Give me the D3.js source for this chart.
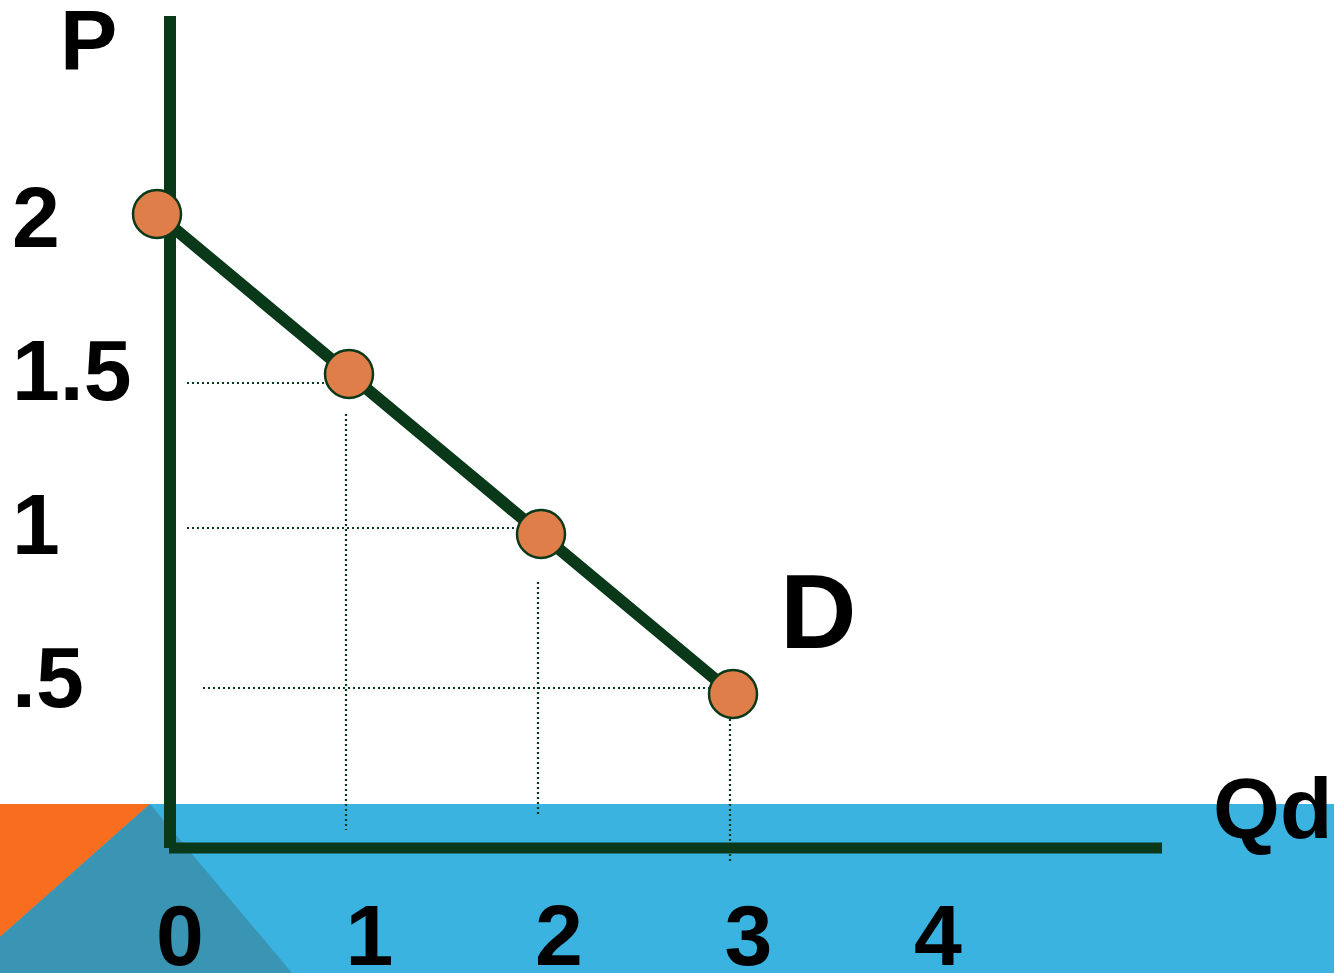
<!DOCTYPE html>
<html>
<head>
<meta charset="utf-8">
<script src="https://cdn.jsdelivr.net/npm/d3@7"></script>
<style>
  html, body { margin: 0; padding: 0; background: #fff; }
  text { font-family: "Liberation Sans", Arial, sans-serif; font-weight: bold; fill: #000; }
</style>
</head>
<body>
<div id="chart"></div>
<script>
/* Demand curve slide: P vs Qd */

const quantities = [0, 1, 2, 3];
const prices = [2, 1.5, 1, 0.5];
const xTickLabels = ["0", "1", "2", "3", "4"];
const yTickValues = [2, 1.5, 1, 0.5];
const yTickLabels = ["2", "1.5", "1", ".5"];

const width = 1334,
    height = 973;

const green = "#0a3919";

let svg = d3.select("#chart")
    .append("svg")
    .attr("width", width)
    .attr("height", height)
    .attr("viewBox", [0, 0, width, height]);

// slide background band at the bottom
const bandTop = 804;
svg.append("rect")
    .attr("x", 0).attr("y", bandTop)
    .attr("width", width).attr("height", height - bandTop)
    .attr("fill", "#3ab3e0");
svg.append("polygon")
    .attr("points", [[0, bandTop], [150, bandTop], [0, 937]].join(" "))
    .attr("fill", "#f86d1e");
svg.append("polygon")
    .attr("points", [[150, bandTop], [292, height], [0, height], [0, 937]].join(" "))
    .attr("fill", "#3a95b4");

// scales for the points
let x = d3.scaleLinear()
    .domain([0, 3])
    .range([157, 733]);

let y = d3.scaleLinear()
    .domain([0.5, 2])
    .range([694, 214]);

// scales for the tick labels
let xTick = d3.scaleLinear()
    .domain([0, 4])
    .range([180, 938]);

let yTick = d3.scaleLinear()
    .domain([0.5, 2])
    .range([707, 247]);

const originX = 170,
    originY = 848;

const data = quantities.map((q, i) => ({q: q, p: prices[i]}));

// dotted guide lines
const guides = data.filter(d => d.q > 0);
const hOffset = {1.5: 9, 1: -6, 0.5: -6};

svg.selectAll(".hguide")
    .data(guides)
    .join("line")
    .attr("class", "hguide")
    .attr("x1", d => d.p === 0.5 ? originX + 33 : originX + 17)
    .attr("x2", d => x(d.q) - 4)
    .attr("y1", d => y(d.p) + hOffset[d.p])
    .attr("y2", d => y(d.p) + hOffset[d.p])
    .attr("stroke", green)
    .attr("stroke-width", 2.2)
    .attr("stroke-dasharray", "2,3");

svg.selectAll(".vguide")
    .data(guides)
    .join("line")
    .attr("class", "vguide")
    .attr("x1", d => x(d.q) - 3)
    .attr("x2", d => x(d.q) - 3)
    .attr("y1", d => d.q === 3 ? y(d.p) + 10 : y(d.p) + (d.q === 1 ? 40 : 48))
    .attr("y2", d => d.q === 3 ? originY + 14 : (d.q === 1 ? originY - 18 : originY - 33))
    .attr("stroke", green)
    .attr("stroke-width", 2.2)
    .attr("stroke-dasharray", "2,3");

// axes
svg.append("line")
    .attr("x1", originX).attr("x2", originX)
    .attr("y1", 16).attr("y2", originY)
    .attr("stroke", green)
    .attr("stroke-width", 12);

svg.append("line")
    .attr("x1", originX - 1).attr("x2", 1162)
    .attr("y1", originY).attr("y2", originY)
    .attr("stroke", green)
    .attr("stroke-width", 11);

// demand line
const line = d3.line()
    .x(d => x(d.q))
    .y(d => y(d.p));

svg.append("path")
    .datum(data)
    .attr("d", line)
    .attr("fill", "none")
    .attr("stroke", green)
    .attr("stroke-width", 12);

// points
svg.selectAll(".pt")
    .data(data)
    .join("circle")
    .attr("class", "pt")
    .attr("cx", d => x(d.q))
    .attr("cy", d => y(d.p))
    .attr("r", 24)
    .attr("fill", "#e07e4a")
    .attr("stroke", green)
    .attr("stroke-width", 2.5);

// tick labels
svg.selectAll(".xlab")
    .data(xTickLabels)
    .join("text")
    .attr("class", "xlab")
    .attr("x", (d, i) => xTick(i))
    .attr("y", 965)
    .attr("text-anchor", "middle")
    .attr("font-size", 86)
    .text(d => d);

svg.selectAll(".ylab")
    .data(yTickValues)
    .join("text")
    .attr("class", "ylab")
    .attr("x", 12)
    .attr("y", d => yTick(d))
    .attr("font-size", 86)
    .text((d, i) => yTickLabels[i]);

// axis titles
svg.append("text")
    .attr("x", 60).attr("y", 70)
    .attr("font-size", 86)
    .text("P");

svg.append("text")
    .attr("x", 1213).attr("y", 838)
    .attr("font-size", 86)
    .text("Qd");

svg.append("text")
    .attr("x", 780).attr("y", 648)
    .attr("font-size", 106)
    .text("D");
</script>
</body>
</html>
